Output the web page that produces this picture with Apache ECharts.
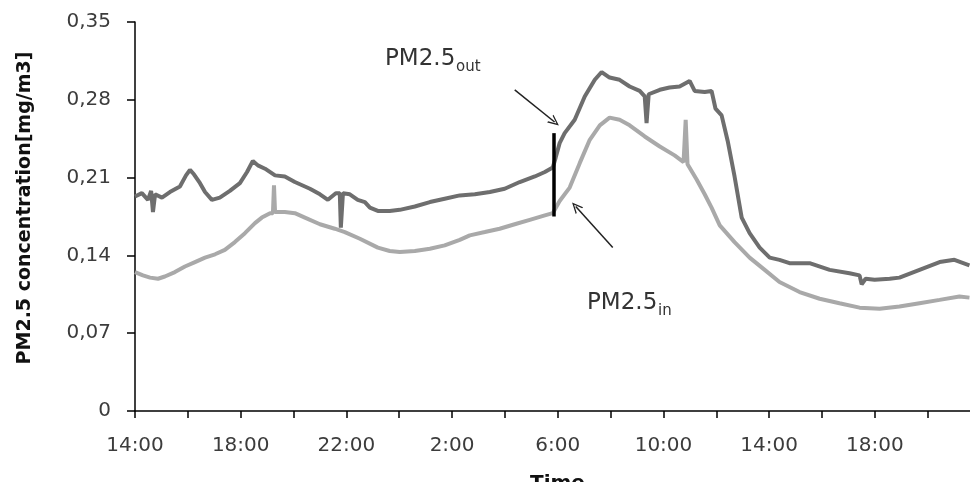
<!DOCTYPE html>
<html>
<head>
<meta charset="utf-8">
<script src="https://cdn.jsdelivr.net/npm/echarts@6/dist/echarts.min.js"></script>
<style>
html,body{margin:0;padding:0;background:#fff;}
#chart{width:970px;height:482px;}
</style>
</head>
<body>
<div id="chart"></div>
<script>
// Hours elapsed since 14:00 on day 1
const outHours = [0.00,0.26,0.49,0.61,0.68,0.76,1.02,1.32,1.70,1.93,2.08,2.23,2.46,2.65,2.91,3.21,3.59,3.97,4.24,4.46,4.65,4.92,5.30,5.67,6.05,6.62,7.00,7.30,7.60,7.75,7.79,7.87,8.13,8.43,8.70,8.89,9.19,9.64,10.02,10.59,11.16,11.72,12.29,12.86,13.43,13.99,14.56,15.13,15.51,15.81,15.92,16.07,16.26,16.64,17.02,17.40,17.66,17.96,18.34,18.72,19.10,19.29,19.36,19.44,19.86,20.23,20.61,20.99,21.18,21.56,21.82,21.97,22.20,22.43,22.69,22.96,23.26,23.64,24.02,24.39,24.77,25.53,26.29,27.04,27.42,27.50,27.65,27.99,28.56,28.93,29.69,30.45,31.01,31.58];
const outValues = [0.193,0.196,0.190,0.198,0.179,0.195,0.192,0.197,0.202,0.212,0.217,0.213,0.205,0.197,0.190,0.192,0.198,0.205,0.215,0.225,0.221,0.218,0.212,0.211,0.206,0.200,0.195,0.190,0.196,0.196,0.165,0.196,0.195,0.190,0.188,0.183,0.180,0.180,0.181,0.184,0.188,0.191,0.194,0.195,0.197,0.200,0.206,0.211,0.215,0.219,0.228,0.241,0.250,0.262,0.283,0.298,0.305,0.300,0.298,0.292,0.288,0.283,0.259,0.285,0.289,0.291,0.292,0.297,0.288,0.287,0.288,0.272,0.266,0.243,0.211,0.174,0.160,0.147,0.138,0.136,0.133,0.133,0.127,0.124,0.122,0.114,0.119,0.118,0.119,0.120,0.127,0.134,0.136,0.131];
const inHours = [0.00,0.30,0.57,0.87,1.13,1.51,1.89,2.27,2.65,3.03,3.40,3.78,4.16,4.54,4.80,5.11,5.22,5.26,5.30,5.67,6.05,6.43,7.00,7.56,7.94,8.51,9.19,9.64,10.02,10.59,11.16,11.72,12.29,12.67,13.24,13.80,14.37,14.94,15.51,15.81,16.07,16.45,16.83,17.21,17.59,17.96,18.34,18.72,19.29,19.86,20.42,20.76,20.84,20.91,21.26,21.56,21.82,22.13,22.69,23.26,23.83,24.39,25.15,25.91,26.66,27.42,28.18,28.93,29.69,30.45,31.20,31.58];
const inValues = [0.125,0.122,0.120,0.119,0.121,0.125,0.130,0.134,0.138,0.141,0.145,0.152,0.160,0.169,0.174,0.178,0.178,0.203,0.179,0.179,0.178,0.174,0.168,0.164,0.161,0.155,0.147,0.144,0.143,0.144,0.146,0.149,0.154,0.158,0.161,0.164,0.168,0.172,0.176,0.178,0.189,0.201,0.223,0.244,0.257,0.264,0.262,0.257,0.247,0.238,0.230,0.224,0.262,0.222,0.208,0.195,0.183,0.167,0.152,0.138,0.127,0.116,0.107,0.101,0.097,0.093,0.092,0.094,0.097,0.100,0.103,0.102];
const yTicks = [0, 0.07, 0.14, 0.21, 0.28, 0.35];
const xLabelHours = [0, 4, 8, 12, 16, 20, 24, 28];
const startHour = 14;
// annotation anchors (hour, value)
const switchBar = [[15.85, 0.250], [15.85, 0.175]];
const outArrow = [[14.37, 0.289], [15.88, 0.260]];
const inArrow = [[18.08, 0.147], [16.68, 0.184]];

const chart = echarts.init(document.getElementById('chart'), null, {renderer: 'canvas'});
const zip = (h, v) => h.map((x, i) => [x, v[i]]);
const arrowHead = 'path://M5,0 L10,10 L8.6,10 L5,2.8 L1.4,10 L0,10 Z';
const labelFont = 'DejaVu Sans';

function subLabel(x, y, main, sub) {
  return {
    type: 'group', x: x, y: y,
    children: [
      {type: 'text', x: 0, y: 0,
        style: {text: main, font: '23px "DejaVu Sans"', fill: '#333',
          align: 'left', verticalAlign: 'bottom', textAlign: 'left', textVerticalAlign: 'bottom'}},
      {type: 'text', x: 71, y: 4,
        style: {text: sub, font: '15px "DejaVu Sans"', fill: '#333',
          align: 'left', verticalAlign: 'bottom', textAlign: 'left', textVerticalAlign: 'bottom'}}
    ]
  };
}

const option = {
  animation: false,
  backgroundColor: '#ffffff',
  grid: {left: 135, right: 0, top: 22, bottom: 71, containLabel: false},
  xAxis: {
    type: 'value', min: 0, max: 31.6, interval: 2,
    axisLine: {show: true, lineStyle: {color: '#000', width: 1.5}},
    axisTick: {show: true, length: 7, lineStyle: {color: '#000', width: 1.5}},
    splitLine: {show: false},
    axisLabel: {
      margin: 25, color: '#3c3c3c', fontFamily: labelFont, fontSize: 20, showMaxLabel: false,
      formatter: v => xLabelHours.indexOf(v) >= 0 ? ((startHour + v) % 24) + ':00' : ''
    }
  },
  yAxis: {
    type: 'value', min: 0, max: 0.35, interval: 0.07,
    axisLine: {show: true, lineStyle: {color: '#000', width: 1.5}},
    axisTick: {show: true, length: 8, lineStyle: {color: '#000', width: 1.5}},
    splitLine: {show: false},
    axisLabel: {
      margin: 24, color: '#3c3c3c', fontFamily: labelFont, fontSize: 20,
      formatter: v => {
        const t = yTicks.find(k => Math.abs(k - v) < 1e-6);
        return t === 0 ? '0' : (t !== undefined ? t.toFixed(2).replace('.', ',') : '');
      }
    }
  },
  series: [
    {
      name: 'PM2.5in', type: 'line', data: zip(inHours, inValues), showSymbol: false,
      lineStyle: {color: '#a9a9a9', width: 4}, z: 2,
      markLine: {
        silent: true, animation: false, label: {show: false},
        data: [
          [{coord: inArrow[0], symbol: 'none'}, {coord: inArrow[1], symbol: arrowHead, symbolSize: [10, 11]}]
        ],
        lineStyle: {color: '#222', width: 1.5, type: 'solid'}
      }
    },
    {
      name: 'PM2.5out', type: 'line', data: zip(outHours, outValues), showSymbol: false,
      lineStyle: {color: '#6e6e6e', width: 4}, z: 3,
      markLine: {
        silent: true, animation: false, label: {show: false}, symbol: 'none',
        data: [
          [{coord: outArrow[0], symbol: 'none'}, {coord: outArrow[1], symbol: arrowHead, symbolSize: [10, 11]}],
          [{coord: switchBar[0], symbol: 'none', lineStyle: {color: '#000', width: 3.5, type: 'solid'}}, {coord: switchBar[1], symbol: 'none'}]
        ],
        lineStyle: {color: '#222', width: 1.5, type: 'solid'}
      }
    }
  ],
  graphic: [
    {
      type: 'text', x: 25, y: 208, rotation: Math.PI / 2,
      style: {text: 'PM2.5 concentration[mg/m3]', font: 'bold 19px "DejaVu Sans"', fill: '#111',
        align: 'center', verticalAlign: 'middle', textAlign: 'center', textVerticalAlign: 'middle'}
    },
    {
      type: 'text', x: 530, y: 474,
      style: {text: 'Time', font: 'bold 20px "DejaVu Sans"', fill: '#111',
        align: 'left', verticalAlign: 'top', textAlign: 'left', textVerticalAlign: 'top'}
    },
    subLabel(385, 71, 'PM2.5', 'out'),
    subLabel(587, 315, 'PM2.5', 'in')
  ]
};
chart.setOption(option);
</script>
</body>
</html>
